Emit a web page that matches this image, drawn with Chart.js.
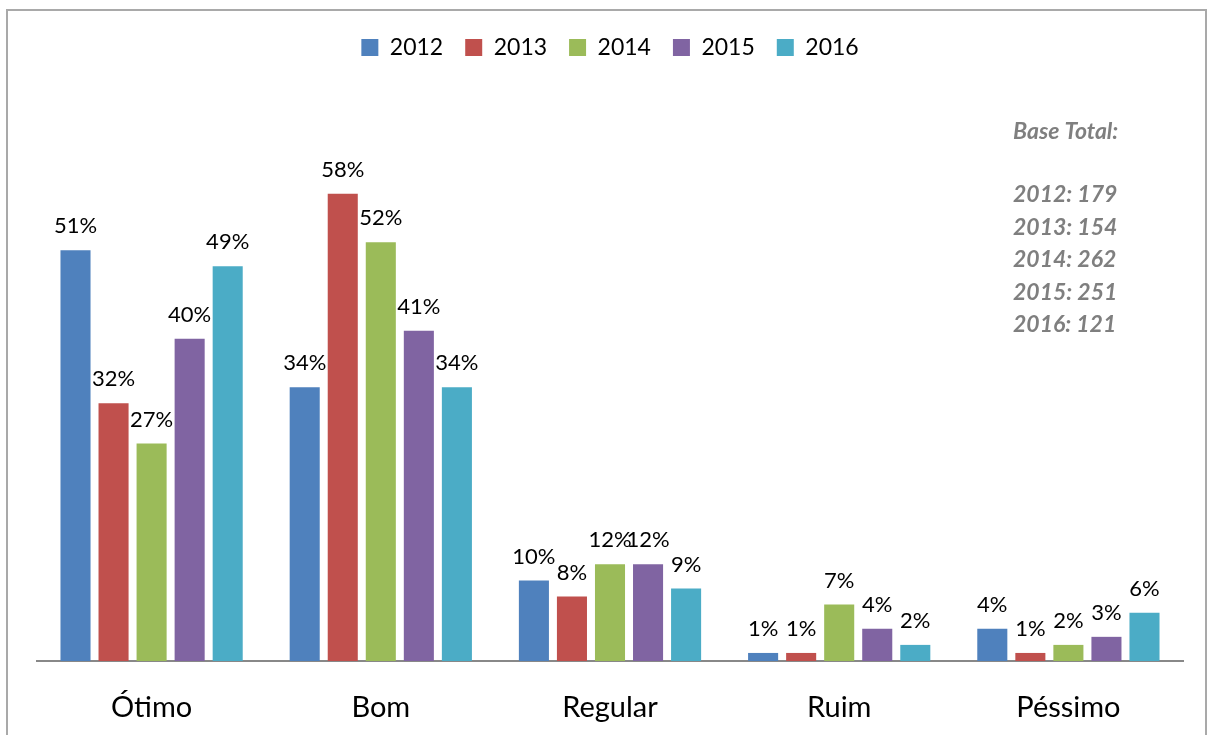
<!DOCTYPE html>
<html>
<head>
<meta charset="utf-8">
<script src="https://cdn.jsdelivr.net/npm/chart.js@4/dist/chart.umd.min.js"></script>
<style>
    body { margin: 0; background: #fff; }
    #frame {
        position: absolute; left: 6px; top: 9px; width: 1197px; height: 760px;
        border: 2px solid #a9a9a9; border-bottom: none; pointer-events: none;
    }
    #chart { position: absolute; left: 0; top: 0; }
</style>
</head>
<body>
<div id="frame"></div>
<canvas id="chart" width="1214" height="735"></canvas>
<script>
const categories = ["Ótimo", "Bom", "Regular", "Ruim", "Péssimo"];
const years = ["2012", "2013", "2014", "2015", "2016"];
const colors = ["#4f81bd", "#c0504d", "#9bbb59", "#8064a2", "#4bacc6"];

// percentages per year, in category order
const v2012 = [51, 34, 10, 1, 4];
const v2013 = [32, 58, 8, 1, 1];
const v2014 = [27, 52, 12, 7, 2];
const v2015 = [40, 41, 12, 4, 3];
const v2016 = [49, 34, 9, 2, 6];

const baseTitle = "Base Total:";
const baseTotals = ["2012: 179", "2013: 154", "2014: 262", "2015: 251", "2016: 121"];

const series = [v2012, v2013, v2014, v2015, v2016];
const fontFamily = "Lato, 'Open Sans', sans-serif";

// draws the % labels over each bar
const barLabels = {
    id: "barLabels",
    afterDatasetsDraw(chart) {
        const ctx = chart.ctx;
        ctx.save();
        ctx.font = "22px " + fontFamily;
        ctx.fillStyle = "#000";
        ctx.textAlign = "center";
        ctx.textBaseline = "bottom";
        chart.data.datasets.forEach((ds, i) => {
            const meta = chart.getDatasetMeta(i);
            meta.data.forEach((bar, j) => {
                ctx.fillText(ds.data[j] + "%", bar.x, bar.y - 13);
            });
        });
        ctx.restore();
    },
};

// the "Base Total" note on the right
const baseNote = {
    id: "baseNote",
    afterDraw(chart) {
        const ctx = chart.ctx;
        ctx.save();
        ctx.font = "italic bold 23px " + fontFamily;
        ctx.fillStyle = "#7f7f7f";
        ctx.textAlign = "left";
        ctx.textBaseline = "middle";
        ctx.fillText(baseTitle, 1013, 132);
        baseTotals.forEach((t, i) => {
            ctx.fillText(t, 1013, 195 + i * 32.5);
        });
        ctx.restore();
    },
};

new Chart(document.getElementById("chart"), {
    type: "bar",
    data: {
        labels: categories,
        datasets: years.map((y, i) => ({
            label: y,
            data: series[i],
            backgroundColor: colors[i],
            categoryPercentage: 0.83,
            barPercentage: 0.79,
        })),
    },
    options: {
        responsive: false,
        animation: false,
        layout: { padding: { left: 37, right: 31, top: 14, bottom: 0 } },
        plugins: {
            legend: {
                position: "top",
                labels: {
                    boxWidth: 17,
                    boxHeight: 17,
                    padding: 22,
                    color: "#000",
                    font: { family: fontFamily, size: 23 },
                },
            },
            tooltip: { enabled: false },
        },
        scales: {
            x: {
                grid: { display: false },
                border: { color: "#888888", width: 2 },
                ticks: {
                    color: "#000",
                    padding: 21,
                    font: { family: fontFamily, size: 29 },
                },
                afterFit: (scale) => { scale.height = 74; },
            },
            y: {
                display: false,
                min: 0,
                max: 73.5,
            },
        },
    },
    plugins: [barLabels, baseNote],
});
</script>
</body>
</html>
